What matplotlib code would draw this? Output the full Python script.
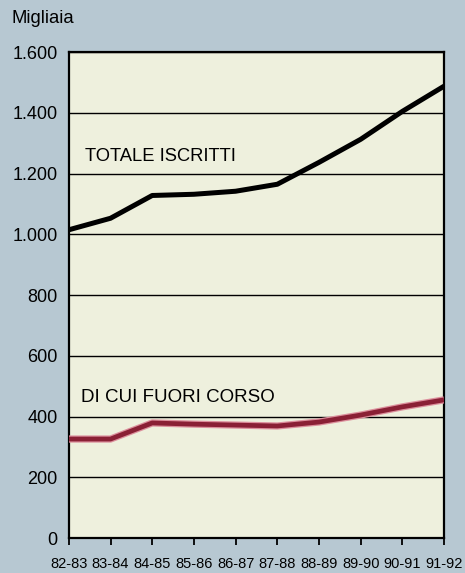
import matplotlib.pyplot as plt
import numpy as np

plt.rcParams["font.family"] = ["Liberation Sans", "DejaVu Sans"]

anni = ["82-83", "83-84", "84-85", "85-86", "86-87",
        "87-88", "88-89", "89-90", "90-91", "91-92"]
totale_iscritti = [1015, 1053, 1128, 1132, 1142, 1165, 1237, 1313, 1405, 1488]
fuori_corso = [326, 326, 379, 375, 372, 369, 382, 405, 432, 455]
yticks = [0, 200, 400, 600, 800, 1000, 1200, 1400, 1600]
ylabels = ["0", "200", "400", "600", "800", "1.000", "1.200", "1.400", "1.600"]

fig = plt.figure(figsize=(4.65, 5.73), dpi=100, facecolor="#b7c8d2")
ax = fig.add_axes([0.148, 0.061, 0.807, 0.848])
ax.set_facecolor("#eef0dd")

x = np.arange(len(anni))
ax.plot(x, fuori_corso, color="#dc8f9c", lw=5.2, solid_capstyle="butt", zorder=3)
ax.plot(x, fuori_corso, color="#8a2035", lw=3.4, solid_capstyle="butt", zorder=4)
ax.plot(x, totale_iscritti, color="black", lw=3.6, solid_capstyle="butt", zorder=4)

ax.set_xlim(0, 9)
ax.set_ylim(0, 1600)
ax.set_yticks(yticks, ylabels, fontsize=13)
ax.set_xticks(x, anni, fontsize=10.5)
ax.tick_params(axis="y", length=0, pad=8)
ax.tick_params(axis="x", direction="out", length=5, width=1.3, pad=9)
ax.grid(axis="y", color="black", lw=1.0, zorder=2)
for s in ax.spines.values():
    s.set_linewidth(1.6)

ax.text(0.4, 1255, "TOTALE ISCRITTI", fontsize=13.2, va="center", zorder=5)
ax.text(0.3, 462, "DI CUI FUORI CORSO", fontsize=13.5, va="center", zorder=5)
fig.text(0.025, 0.968, "Migliaia", fontsize=13.3, va="center")

plt.savefig("out.png", dpi=100, facecolor=fig.get_facecolor())
